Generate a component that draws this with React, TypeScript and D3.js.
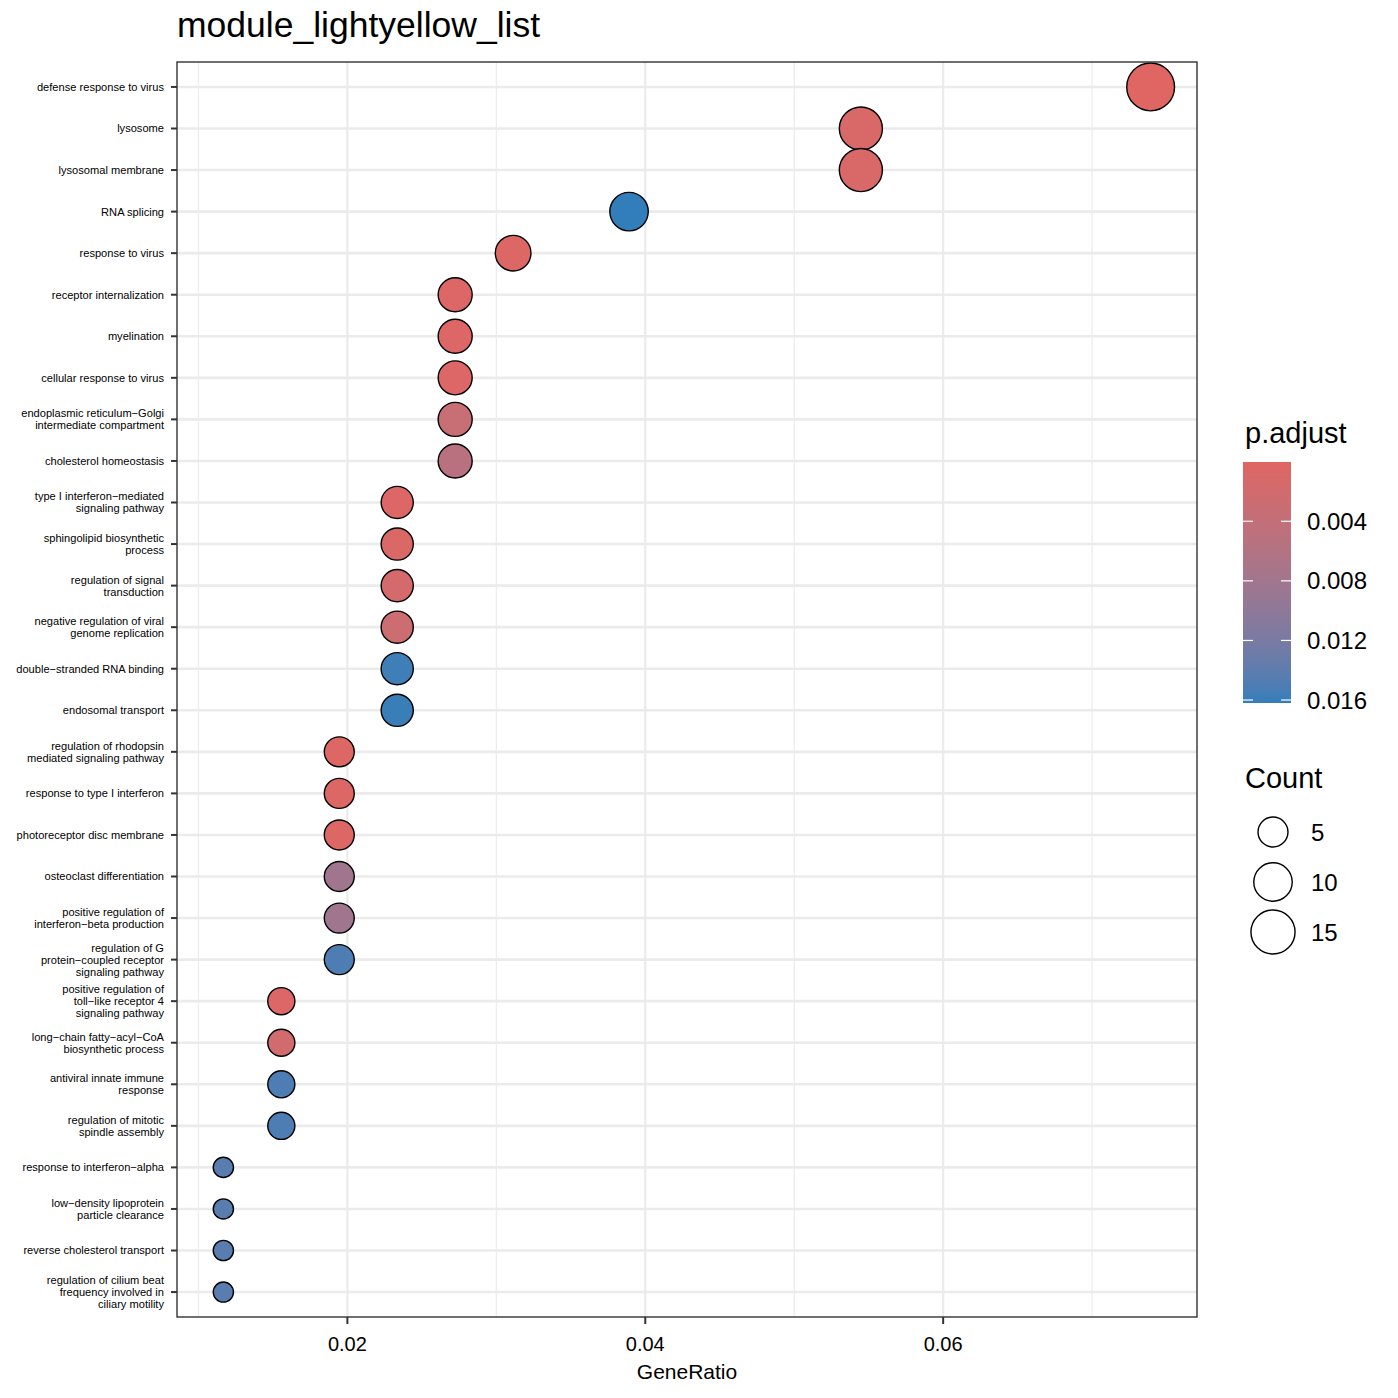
import React from "react";
import * as d3 from "d3";

const title = "module_lightyellow_list";

const terms: string[][] = [
  ["defense response to virus"],
  ["lysosome"],
  ["lysosomal membrane"],
  ["RNA splicing"],
  ["response to virus"],
  ["receptor internalization"],
  ["myelination"],
  ["cellular response to virus"],
  ["endoplasmic reticulum\u2212Golgi", "intermediate compartment"],
  ["cholesterol homeostasis"],
  ["type I interferon\u2212mediated", "signaling pathway"],
  ["sphingolipid biosynthetic", "process"],
  ["regulation of signal", "transduction"],
  ["negative regulation of viral", "genome replication"],
  ["double\u2212stranded RNA binding"],
  ["endosomal transport"],
  ["regulation of rhodopsin", "mediated signaling pathway"],
  ["response to type I interferon"],
  ["photoreceptor disc membrane"],
  ["osteoclast differentiation"],
  ["positive regulation of", "interferon\u2212beta production"],
  ["regulation of G", "protein\u2212coupled receptor", "signaling pathway"],
  ["positive regulation of", "toll\u2212like receptor 4", "signaling pathway"],
  ["long\u2212chain fatty\u2212acyl\u2212CoA", "biosynthetic process"],
  ["antiviral innate immune", "response"],
  ["regulation of mitotic", "spindle assembly"],
  ["response to interferon\u2212alpha"],
  ["low\u2212density lipoprotein", "particle clearance"],
  ["reverse cholesterol transport"],
  ["regulation of cilium beat", "frequency involved in", "ciliary motility"],
];

const counts: number[] = [19, 14, 14, 10, 8, 7, 7, 7, 7, 7, 6, 6, 6, 6, 6, 6, 5, 5, 5, 5, 5, 5, 4, 4, 4, 4, 3, 3, 3, 3];
const geneTotal = 257;

const pAdjust: number[] = [
  0.00002, 0.0010, 0.0010, 0.0162, 0.0004, 0.0005, 0.0005, 0.0005, 0.0033, 0.0052,
  0.0005, 0.0008, 0.0016, 0.0028, 0.0157, 0.0159, 0.0004, 0.0004, 0.0004, 0.0081,
  0.0081, 0.0150, 0.0005, 0.0021, 0.0150, 0.0150, 0.0143, 0.0143, 0.0143, 0.0143,
];

const xTicks = [0.02, 0.04, 0.06];
const xMinor = [0.01, 0.03, 0.05, 0.07];
const colorTicks = [0.004, 0.008, 0.012, 0.016];
const sizeBreaks = [5, 10, 15];

const LOW = "#e06663";
const HIGH = "#327eba";

export default function App() {
  const W = 1398, H = 1398;
  const left = 177, right = 1197, top = 62, bottom = 1317;
  const font = "'Liberation Sans', Arial, Helvetica, sans-serif";

  const ratios = counts.map((c) => c / geneTotal);
  const [rMin, rMax] = d3.extent(ratios) as [number, number];
  const pad = (rMax - rMin) * 0.05;
  const x = d3.scaleLinear().domain([rMin - pad, rMax + pad]).range([left, right]);

  const n = terms.length;
  const yStep = (bottom - top) / (n - 1 + 1.2);
  const y = (i: number) => top + yStep * 0.6 + i * yStep;

  const [pMin, pMax] = d3.extent(pAdjust) as [number, number];
  const color = d3.scaleLinear<string>().domain([pMin, pMax]).range([LOW, HIGH]).interpolate(d3.interpolateLab);

  const [cMin, cMax] = d3.extent(counts) as [number, number];
  const sNorm = d3.scaleLinear().domain([cMin, cMax]).range([0, 1]);
  const rLin = d3.scaleLinear().domain([0, 1]).range([10.8, 24.6]);
  const radius = (c: number) => rLin(Math.sqrt(Math.max(0, sNorm(c)))) - 0.7;

  // colorbar
  const cbX = 1243, cbW = 48, cbTop = 462, cbH = 241;
  const cbY = d3.scaleLinear().domain([pMin, pMax]).range([cbTop, cbTop + cbH]);
  const stops = d3.range(0, 1.0001, 0.05);

  const order = d3.range(n).sort((a, b) => counts[a] - counts[b]);

  return (
    <svg width={W} height={H} style={{ position: "absolute", left: 0, top: 0, background: "#fff" }} fontFamily={font}>
      <defs>
        <linearGradient id="cb" x1="0" y1="0" x2="0" y2="1">
          {stops.map((t) => (
            <stop key={t} offset={t} stopColor={color(pMin + t * (pMax - pMin))} />
          ))}
        </linearGradient>
      </defs>
      <rect width={W} height={H} fill="#fff" />
      <text x={left} y={37} fontSize={35.5} fill="#000">{title}</text>

      {/* grid */}
      {xMinor.map((v) => (
        <line key={"mi" + v} x1={x(v)} x2={x(v)} y1={top} y2={bottom} stroke="#EBEBEB" strokeWidth={1.2} />
      ))}
      {xTicks.map((v) => (
        <line key={"ma" + v} x1={x(v)} x2={x(v)} y1={top} y2={bottom} stroke="#EBEBEB" strokeWidth={2.2} />
      ))}
      {terms.map((_, i) => (
        <line key={"h" + i} x1={left} x2={right} y1={y(i)} y2={y(i)} stroke="#EBEBEB" strokeWidth={2.6} />
      ))}

      {/* points */}
      {order.map((i) => (
        <circle key={"p" + i} cx={x(ratios[i])} cy={y(i)} r={radius(counts[i])} fill={color(pAdjust[i])} stroke="#000" strokeWidth={1.4} />
      ))}

      <rect x={left} y={top} width={right - left} height={bottom - top} fill="none" stroke="#333" strokeWidth={1.4} />

      {/* y axis */}
      {terms.map((lines, i) => (
        <g key={"yl" + i}>
          <line x1={left - 6} x2={left} y1={y(i)} y2={y(i)} stroke="#333" strokeWidth={2} />
          <text x={164} y={y(i)} fontSize={11.1} textAnchor="end" fill="#000">
            {lines.map((l, k) => (
              <tspan key={k} x={164} dy={k === 0 ? (-(lines.length - 1) / 2) * 12 + 3.9 : 12}>{l}</tspan>
            ))}
          </text>
        </g>
      ))}

      {/* x axis */}
      {xTicks.map((v) => (
        <g key={"xt" + v}>
          <line x1={x(v)} x2={x(v)} y1={bottom} y2={bottom + 7} stroke="#333" strokeWidth={2} />
          <text x={x(v)} y={bottom + 34} fontSize={20} textAnchor="middle" fill="#000">{String(v)}</text>
        </g>
      ))}
      <text x={(left + right) / 2} y={1379} fontSize={21} textAnchor="middle" fill="#000">GeneRatio</text>

      {/* color legend */}
      <text x={1245} y={443} fontSize={29} fill="#000">p.adjust</text>
      <rect x={cbX} y={cbTop} width={cbW} height={cbH} fill="url(#cb)" />
      {colorTicks.map((v) => (
        <g key={"ct" + v}>
          <line x1={cbX} x2={cbX + 10} y1={cbY(v)} y2={cbY(v)} stroke="#fff" strokeWidth={1.2} />
          <line x1={cbX + cbW - 10} x2={cbX + cbW} y1={cbY(v)} y2={cbY(v)} stroke="#fff" strokeWidth={1.2} />
          <text x={1307} y={cbY(v) + 8.5} fontSize={24} fill="#000">{v.toFixed(3)}</text>
        </g>
      ))}

      {/* size legend */}
      <text x={1245} y={788} fontSize={29} fill="#000">Count</text>
      {sizeBreaks.map((b, k) => (
        <g key={"sb" + b}>
          <circle cx={1273} cy={832 + k * 50} r={radius(b)} fill="none" stroke="#000" strokeWidth={1.4} />
          <text x={1311} y={832 + k * 50 + 8.5} fontSize={24} fill="#000">{b}</text>
        </g>
      ))}
    </svg>
  );
}
